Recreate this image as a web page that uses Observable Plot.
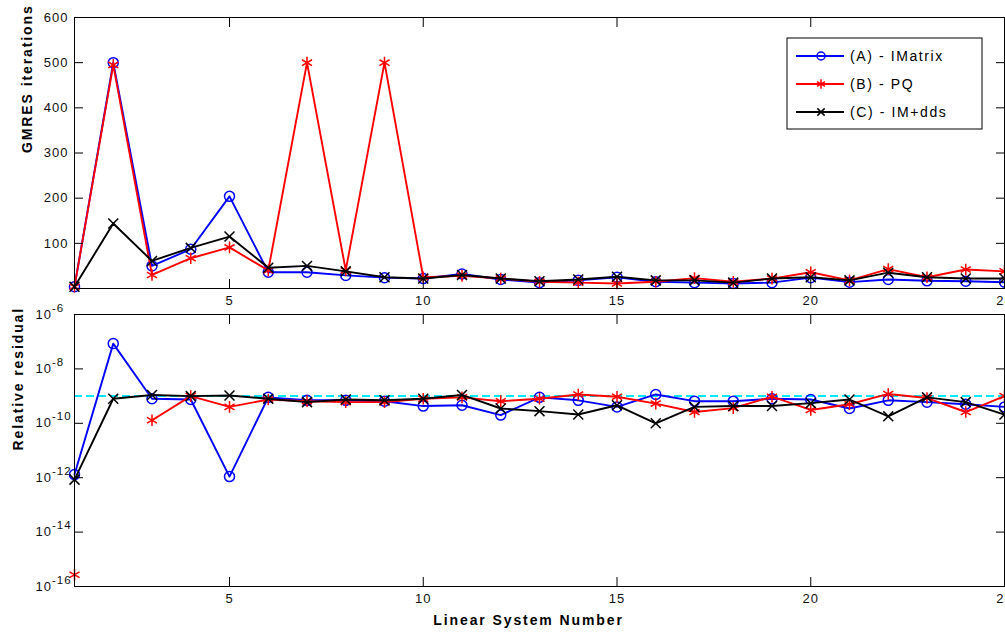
<!DOCTYPE html>
<html>
<head>
<meta charset="utf-8">
<script src="https://cdn.jsdelivr.net/npm/d3@7"></script>
<script src="https://cdn.jsdelivr.net/npm/@observablehq/plot@0.6"></script>
<style>
  body { margin: 0; background: #fff; }
  #wrap { position: relative; width: 1005px; height: 634px; overflow: hidden; background: #fff;
          font-family: "Liberation Sans", Arial, Helvetica, sans-serif; }
  #wrap > svg, #wrap > figure { position: absolute; left: 0; margin: 0; }
</style>
</head>
<body>
<div id="wrap"></div>
<script>
// ---------- data ----------
const systems = [1,2,3,4,5,6,7,8,9,10,11,12,13,14,15,16,17,18,19,20,21,22,23,24,25];
const seriesNames = ["(A) - IMatrix", "(B) - PQ", "(C) - IM+dds"];
const seriesColors = ["#0000ff", "#ff0000", "#000000"];

// GMRES iterations
const itersA = [4,500,50,87,204,36,36,29,24,22,32,20,13,18,25,15,13,11,13,24,14,20,17,16,14];
const itersB = [4,495,30,67,91,40,500,40,500,25,28,22,15,13,11,15,23,15,22,36,18,43,25,42,38];
const itersC = [4,144,61,90,115,46,50,38,25,22,30,22,16,20,26,18,18,13,22,25,18,35,25,22,22];

// Relative residual
const resA = [1.3e-12,8.5e-8,8e-10,7.5e-10,1.1e-12,9e-10,7e-10,7e-10,6.5e-10,4.3e-10,4.6e-10,2e-10,9e-10,7e-10,4e-10,1.15e-9,6.5e-10,6.5e-10,8e-10,7.5e-10,3.5e-10,7e-10,6e-10,5e-10,4e-10];
const resB = [2.7e-16,null,1.3e-10,1e-9,4e-10,7.5e-10,6.5e-10,6e-10,6e-10,8e-10,9e-10,6.5e-10,8e-10,1.15e-9,9.5e-10,5.3e-10,2.6e-10,3.6e-10,9.5e-10,3.1e-10,5e-10,1.2e-9,8.5e-10,2.6e-10,1e-9];
const resC = [8.5e-13,8e-10,1.1e-9,1e-9,1.05e-9,8e-10,6e-10,7.5e-10,7e-10,8e-10,1.1e-9,3.5e-10,2.8e-10,2.1e-10,4.6e-10,1e-10,4e-10,4.3e-10,4.3e-10,5.5e-10,7.5e-10,1.8e-10,9e-10,6e-10,2.1e-10];
const tolerance = [1e-9];

// ticks
const xTicks = [5,10,15,20,25];
const yTicksTop = [100,200,300,400,500,600];
const yTicksBottom = [1e-16,1e-14,1e-12,1e-10,1e-8,1e-6];

const xLabel = "Linear System Number";
const yLabelTop = "GMRES iterations";
const yLabelBottom = "Relative residual";

// ---------- tables ----------
const itersAll = [itersA, itersB, itersC];
const resAll = [resA, resB, resC];
const symbols = ["circle", "asterisk", "times"];
const radii = [5, 5.5, 4.6];
function table(arr) { return systems.map((x, i) => ({x, v: arr[i]})); }

const font = '"Liberation Sans", Arial, Helvetica, sans-serif';
const wrap = document.getElementById("wrap");

function seriesMarks(arrays) {
  const out = [];
  arrays.forEach((arr, k) => {
    const t = table(arr);
    out.push(Plot.line(t, {x: "x", y: "v", stroke: seriesColors[k], strokeWidth: 1.9}));
    out.push(Plot.dot(t, {x: "x", y: "v", stroke: seriesColors[k], symbol: symbols[k], r: radii[k], strokeWidth: 1.5, fill: "none"}));
  });
  return out;
}

function frameTicks(yTicks) {
  return [
    Plot.axisX(xTicks, {anchor: "bottom", tickSize: 9, dy: -9, tickFormat: () => "", label: null}),
    Plot.axisX(xTicks, {anchor: "top", tickSize: 9, dy: 9, tickFormat: () => "", label: null}),
    Plot.axisY(yTicks, {anchor: "left", tickSize: 9, dx: 9, tickFormat: () => "", label: null}),
    Plot.axisY(yTicks, {anchor: "right", tickSize: 9, dx: -9, tickFormat: () => "", label: null}),
    Plot.axisX(xTicks, {anchor: "bottom", tickSize: 0, tickPadding: 7, label: null, fill: "#111"})
  ];
}

// ---------- top panel ----------
const topPlot = Plot.plot({
  width: 1005, height: 310,
  marginTop: 17, marginBottom: 22, marginLeft: 74, marginRight: 1,
  style: {fontFamily: font, fontSize: "13px", letterSpacing: "1px", overflow: "visible", background: "transparent", color: "#000"},
  x: {domain: [1, 25]},
  y: {domain: [0, 600]},
  marks: [
    ...seriesMarks(itersAll),
    Plot.frame({stroke: "#000", strokeWidth: 1}),
    ...frameTicks(yTicksTop),
    Plot.axisY(yTicksTop, {anchor: "left", tickSize: 0, tickPadding: 6, label: null, fill: "#111"}),
    Plot.text([yLabelTop], {text: d => d, frameAnchor: "left", dx: -47, rotate: -90, fontWeight: "bold", fontSize: 14})
  ]
});
topPlot.style.top = "0px";
wrap.appendChild(topPlot);

// ---------- bottom panel ----------
const bottomPlot = Plot.plot({
  width: 1005, height: 334,
  marginTop: 14, marginBottom: 48, marginLeft: 74, marginRight: 1,
  style: {fontFamily: font, fontSize: "13px", letterSpacing: "1px", overflow: "visible", background: "transparent", color: "#000"},
  x: {domain: [1, 25]},
  y: {type: "log", domain: [1e-16, 1e-6]},
  marks: [
    Plot.ruleY(tolerance, {stroke: "#00e8ff", strokeWidth: 2, strokeDasharray: "8,4"}),
    ...seriesMarks(resAll),
    Plot.frame({stroke: "#000", strokeWidth: 1}),
    ...frameTicks(yTicksBottom),
    Plot.axisY(yTicksBottom, {anchor: "left", tickSize: 0, tickPadding: 39, textAnchor: "start", label: null, fill: "#111",
      tickFormat: d => "10^" + Math.round(Math.log10(d))}),
    Plot.text([yLabelBottom], {text: d => d, frameAnchor: "left", dx: -56, rotate: -90, fontWeight: "bold", fontSize: 14}),
    Plot.text([xLabel], {text: d => d, frameAnchor: "bottom", dx: -11, dy: 38, fontWeight: "bold", fontSize: 14})
  ]
});
bottomPlot.style.top = "300px";
wrap.appendChild(bottomPlot);

// superscripts + label spacing
const svgNS = "http://www.w3.org/2000/svg";
[topPlot, bottomPlot].forEach(svg => {
  svg.querySelectorAll("text").forEach(t => {
    const s = t.textContent;
    const m = /^10\^(-?\d+)$/.exec(s);
    if (m) {
      t.textContent = "10";
      const ts = document.createElementNS(svgNS, "tspan");
      ts.setAttribute("dy", "-7");
      ts.setAttribute("font-size", "11.5");
      ts.textContent = m[1];
      t.appendChild(ts);
    }
    if (s === xLabel || s === yLabelTop || s === yLabelBottom) {
      t.style.letterSpacing = "1.9px";
    }
  });
});

// ---------- legend ----------
const lg = d3.select(wrap).append("svg")
  .attr("width", 197).attr("height", 93)
  .style("left", "786px").style("top", "37px");
lg.append("rect").attr("x", 1).attr("y", 1).attr("width", 195).attr("height", 91)
  .attr("fill", "#fff").attr("stroke", "#000").attr("stroke-width", 1);
const legendSymbols = [d3.symbolCircle, d3.symbolAsterisk, d3.symbolTimes];
const legendSizes = [50, 60, 36];
seriesNames.forEach((name, k) => {
  const cy = 19 + k * 28;
  lg.append("line").attr("x1", 10).attr("x2", 58).attr("y1", cy).attr("y2", cy)
    .attr("stroke", seriesColors[k]).attr("stroke-width", 1.8);
  lg.append("path").attr("d", d3.symbol(legendSymbols[k], legendSizes[k])())
    .attr("transform", `translate(35,${cy})`)
    .attr("fill", "none").attr("stroke", seriesColors[k]).attr("stroke-width", 1.5);
  lg.append("text").attr("x", 64).attr("y", cy + 5)
    .attr("font-family", font).attr("font-size", 14).style("letter-spacing", "1.6px")
    .attr("fill", "#000").text(name);
});
</script>
</body>
</html>
